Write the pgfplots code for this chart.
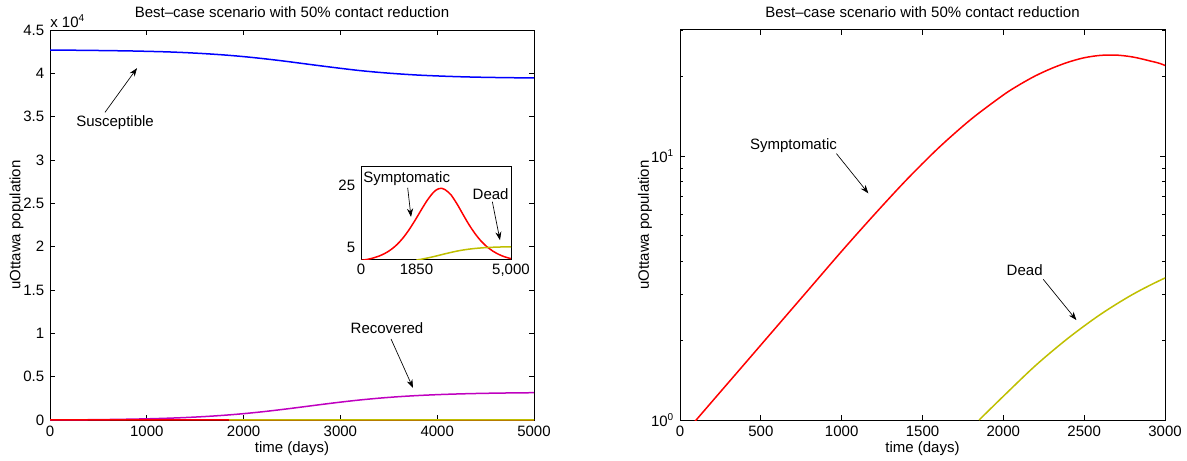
\documentclass[border=0pt]{standalone}
\usepackage{pgfplots}
\usepackage{pgfplotstable}
\pgfplotsset{compat=1.18}
\usepackage{fontspec}
\setmainfont{Liberation Sans}
\usetikzlibrary{arrows.meta}

\definecolor{mblue}{rgb}{0,0,1}
\definecolor{mred}{rgb}{1,0,0}
\definecolor{mmag}{rgb}{0.75,0,0.75}
\definecolor{mdead}{rgb}{0.75,0.75,0}

\newcommand{\fnt}{\fontsize{9}{10.5}\selectfont}

% susceptible and recovered, in units of 10^4
\pgfplotstableread{
x S R
0 4.268 0
200 4.267 0.0013
400 4.265 0.0030
600 4.262 0.0055
800 4.259 0.0089
1000 4.254 0.0135
1200 4.248 0.0199
1400 4.239 0.0285
1600 4.227 0.0399
1800 4.212 0.0547
2000 4.193 0.0732
2200 4.170 0.0957
2400 4.144 0.1216
2600 4.115 0.1497
2800 4.086 0.1785
3000 4.058 0.2061
3200 4.032 0.2309
3400 4.011 0.2519
3600 3.994 0.2689
3800 3.980 0.2823
4000 3.970 0.2925
4200 3.962 0.3001
4400 3.956 0.3058
4600 3.952 0.3099
4800 3.949 0.3128
5000 3.947 0.3150
}\tabSR

% symptomatic
\pgfplotstableread{
x y
0 0.849
200 1.178
400 1.633
600 2.265
800 3.141
1000 4.357
1200 5.98
1400 8.11
1600 10.74
1800 13.77
2000 17.02
2100 18.62
2200 20.14
2300 21.48
2400 22.65
2500 23.55
2600 24.04
2700 24.10
2800 23.71
2900 22.96
3000 22.03
3200 19.10
3400 15.70
3600 12.40
3800 9.53
4000 7.13
4200 5.26
4400 3.84
4600 2.77
4800 1.99
5000 1.44
}\tabI

% dead
\pgfplotstableread{
x y
1850 1.00
2000 1.23
2200 1.61
2400 2.04
2600 2.51
2800 2.99
3000 3.45
3200 3.87
3400 4.22
3600 4.50
3800 4.72
4000 4.89
4200 5.02
4400 5.11
4600 5.18
4800 5.23
5000 5.26
}\tabD

\pgfplotsset{
  mat/.style={
    scale only axis, anchor=south west, clip mode=individual,
    tick align=inside, major tick length=3pt, minor tick length=1.8pt,
    axis line style={line width=0.6pt},
    every tick/.style={black, line width=0.5pt},
    tick label style={font=\fnt},
    label style={font=\fnt},
    title style={font=\fnt, yshift=-2pt},
    /pgf/number format/assume math mode=true,
    /pgf/number format/1000 sep={},
    scaled ticks=false,
    every axis plot/.append style={line width=0.9pt, no marks},
  },
}
\tikzset{arr/.style={-{Stealth[length=5pt,width=3.6pt]}, line width=0.4pt, black}}

\begin{document}
\begin{tikzpicture}
\useasboundingbox (0,0) rectangle (712.2pt,276pt);

% left panel
\begin{axis}[mat, at={(30pt,24pt)}, width=290.4pt, height=234pt,
  xmin=0, xmax=5000, ymin=0, ymax=4.5,
  xtick={0,1000,2000,3000,4000,5000},
  ytick={0,0.5,1,1.5,2,2.5,3,3.5,4,4.5},
  yticklabels={0,0.5,1,1.5,2,2.5,3,3.5,4,4.5},
  xlabel={time (days)}, ylabel={uOttawa population},
  xlabel style={yshift=4pt}, ylabel style={yshift=-7pt},
  title={Best--case scenario with 50\% contact reduction}]
\addplot[mblue, smooth] table[x=x, y=S] {\tabSR};
\addplot[mmag, smooth] table[x=x, y=R] {\tabSR};
\addplot[mred] table[x=x, y expr=\thisrow{y}/10000] {\tabI};
\addplot[mdead] table[x=x, y expr=\thisrow{y}/10000] {\tabD};
\node[font=\fnt, anchor=south west, inner sep=0pt] at ([yshift=1pt]rel axis cs:0,1) {x 10\textsuperscript{4}};
\node[font=\fnt] at (axis cs:672,3.43) {Susceptible};
\draw[arr] (axis cs:568,3.55) -- (axis cs:899,4.06);
\node[font=\fnt] at (axis cs:3481,1.06) {Recovered};
\draw[arr] (axis cs:3523,0.935) -- (axis cs:3750,0.37);
\end{axis}

% inset
\begin{axis}[mat, at={(216.6pt,120pt)}, width=90pt, height=55.8pt,
  axis background/.style={fill=white}, clip mode=global,
  xmin=0, xmax=5000, ymin=1, ymax=31,
  xtick={0,1850,5000}, xticklabels={0,1850,{5,000}},
  ytick={5,25}, major tick length=0pt,
  xticklabel style={yshift=1pt}]
\addplot[mred, smooth] table[x=x, y=y] {\tabI};
\addplot[mdead, smooth] table[x=x, y=y] {\tabD};
\end{axis}
% inset labels, placed over the inset box
\begin{axis}[mat, at={(216.6pt,120pt)}, width=90pt, height=55.8pt,
  hide axis, xmin=0, xmax=5000, ymin=1, ymax=31]
\node[font=\fnt] at (axis cs:1523,27.3) {Symptomatic};
\draw[arr] (axis cs:1556,24.3) -- (axis cs:1667,14.9);
\node[font=\fnt] at (axis cs:4322,22.3) {Dead};
\draw[arr] (axis cs:4378,19.8) -- (axis cs:4633,7.4);
\end{axis}

% right panel
\begin{axis}[mat, at={(408pt,24pt)}, width=291pt, height=234pt,
  xmin=0, xmax=3000, ymode=log, ymin=1, ymax=30,
  xtick={0,500,1000,1500,2000,2500,3000},
  ytick={1,10}, yticklabels={10\textsuperscript{0},10\textsuperscript{1}},
  minor ytick={2,3,4,5,6,7,8,9,20,30},
  xlabel={time (days)}, ylabel={uOttawa population},
  xlabel style={yshift=4pt}, ylabel style={yshift=-7.5pt},
  title={Best--case scenario with 50\% contact reduction}]
\addplot[mred, smooth] table[x=x, y=y] {\tabI};
\addplot[mdead, smooth] table[x=x, y=y] {\tabD};
\node[font=\fnt] at (axis cs:702,10.9) {Symptomatic};
\draw[arr] (axis cs:968,10.2) -- (axis cs:1165,7.22);
\node[font=\fnt] at (axis cs:2132,3.70) {Dead};
\draw[arr] (axis cs:2247,3.41) -- (axis cs:2452,2.39);
\end{axis}
\end{tikzpicture}
\end{document}
